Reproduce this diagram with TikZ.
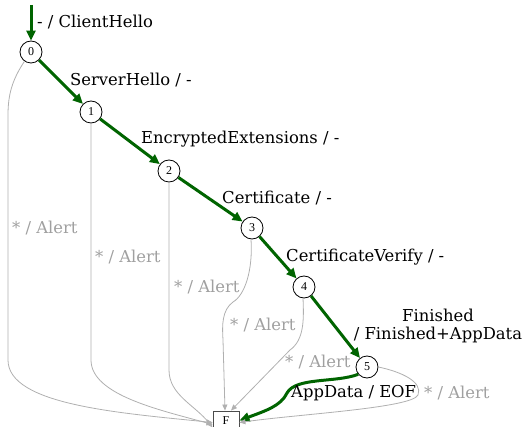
\documentclass[tikz,border=0pt]{standalone}
\usepackage{fontspec}
\setmainfont{DejaVu Serif}
\newfontfamily\statefont{Liberation Serif}
\usetikzlibrary{arrows.meta}
\definecolor{okgreen}{HTML}{006400}
\definecolor{alertgray}{HTML}{B0B0B0}
\definecolor{alerttext}{HTML}{A0A0A0}
\begin{document}
\begin{tikzpicture}[x=1pt,y=-1pt,
  state/.style={circle,draw,line width=0.8pt,minimum size=22pt,inner sep=0pt,font=\statefont\fontsize{12}{12}\selectfont},
  final/.style={rectangle,draw=black!70,line width=0.9pt,minimum width=26pt,minimum height=19pt,inner sep=0pt,font=\statefont\fontsize{12}{12}\selectfont},
  okedge/.style={draw=okgreen,line width=3pt,-{Triangle[length=10pt,width=9pt]}},
  alertedge/.style={draw=alertgray,line width=0.8pt,-{Triangle[length=6pt,width=5pt]}},
  lbl/.style={font=\fontsize{16.4}{18}\selectfont,inner sep=0pt},
  alertlbl/.style={lbl,text=alerttext}]
\useasboundingbox (0,0) rectangle (524,427);

% states
\node[state] (n0) at (31,52) {0};
\node[state] (n1) at (91,112) {1};
\node[state] (n2) at (169,171) {2};
\node[state] (n3) at (252,228) {3};
\node[state] (n4) at (304,287) {4};
\node[state] (n5) at (367,367) {5};
\node[final] (F) at (226,420.5) {F};
\coordinate (start) at (31,5);

% handshake path
\draw[okedge] (start) -- (n0);
\draw[okedge] (n0) -- (n1);
\draw[okedge] (n1) -- (n2);
\draw[okedge] (n2) -- (n3);
\draw[okedge] (n3) -- (n4);
\draw[okedge] (n4) -- (n5);
\draw[okedge] (n5.220) .. controls (335,383) and (296,377) .. (287,393)
  .. controls (281,406) and (265,411) .. (F.east);

% alert transitions
\draw[alertedge] (n0.235) .. controls (12,80) and (8,95) .. (8,115) -- (8,360)
  .. controls (8,405) and (120,413) .. ([yshift=-2pt]F.west);
\draw[alertedge] (n1.south) -- (91,360)
  .. controls (91,395) and (160,410) .. ([yshift=-4pt]F.west);
\draw[alertedge] (n2.south) -- (169,370)
  .. controls (169,395) and (195,405) .. ([yshift=-7pt]F.west);
\draw[alertedge] (n3.265) .. controls (253,270) and (245,295) .. (233,302)
  .. controls (222,310) and (222,325) .. (223,340) -- ([xshift=-1pt]F.north);
\draw[alertedge] (n4.265) .. controls (304,320) and (304,340) .. (290,350)
  -- ([xshift=5pt]F.north);
\draw[alertedge] (n5.east) .. controls (402,372) and (423,382) .. (418,395)
  .. controls (412,408) and (300,414) .. ([yshift=-2pt]F.east);

% labels
\node[lbl,anchor=west] (l0) at (37,22) {- / ClientHello};
\node[lbl,anchor=west] (l1) at (70,80) {ServerHello / -};
\node[lbl,anchor=west] (l2) at (141,139) {EncryptedExtensions / -};
\node[lbl,anchor=west] (l3) at (222,198) {Certificate / -};
\node[lbl,anchor=west] (l4) at (286,257) {CertificateVerify / -};
\node[lbl,align=center] (l5) at (438,326) {Finished\\/ Finished+AppData};
\node[lbl,anchor=west] (l6) at (291,393) {AppData / EOF};
\node[alertlbl,anchor=west] at (12,228) {* / Alert};
\node[alertlbl,anchor=west] at (95,257) {* / Alert};
\node[alertlbl,anchor=west] at (174,287) {* / Alert};
\node[alertlbl,anchor=west] at (230,325) {* / Alert};
\node[alertlbl,anchor=west] at (285,362) {* / Alert};
\node[alertlbl,anchor=west] at (424,393) {* / Alert};
\end{tikzpicture}
\end{document}
